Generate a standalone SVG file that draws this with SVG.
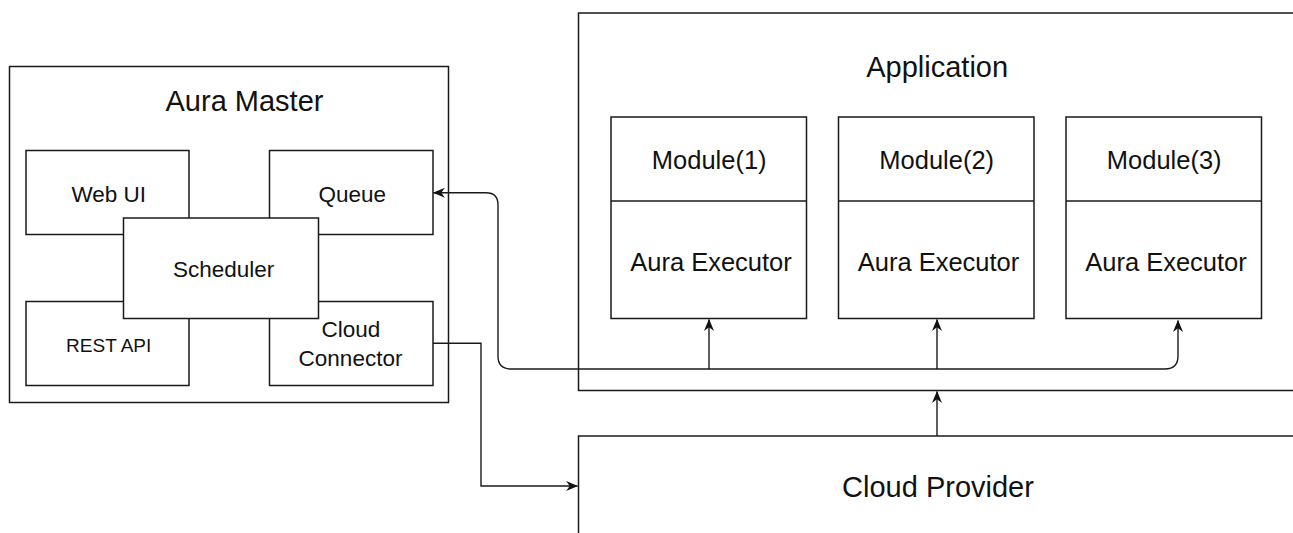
<svg xmlns="http://www.w3.org/2000/svg" width="1293" height="533" viewBox="0 0 1293 533">
  <style>
    .box { fill: #ffffff; stroke: #1a1a1a; stroke-width: 1.5; }
    .line { fill: none; stroke: #1a1a1a; stroke-width: 1.5; }
    .edge { fill: none; stroke: #1a1a1a; stroke-width: 1.4; }
    text { font-family: "Liberation Sans", Arial, Helvetica, sans-serif; fill: #111111; text-anchor: middle; }
    .title { font-size: 29px; }
    .mod { font-size: 25.5px; }
    .inner { font-size: 22.5px; }
    .small { font-size: 19px; }
  </style>
  <defs>
    <marker id="arrow" viewBox="0 0 10 10" refX="9.5" refY="5" markerWidth="12" markerHeight="12" markerUnits="userSpaceOnUse" orient="auto-start-reverse">
      <path d="M0,0.8 L10,5 L0,9.2 L3,5 Z" fill="#111111"/>
    </marker>
  </defs>

  <rect width="1293" height="533" fill="#ffffff"/>

  <!-- Aura Master container and its parts -->
  <g id="aura-master">
    <rect class="box" x="9.5" y="66.5" width="439" height="336"/>
    <text class="title" x="244.5" y="110.5">Aura Master</text>
  </g>
  <g id="web-ui">
    <rect class="box" x="26" y="150.5" width="163" height="84"/>
    <text class="inner" x="108.8" y="201.5">Web UI</text>
  </g>
  <g id="queue">
    <rect class="box" x="269.5" y="150.5" width="163.5" height="84"/>
    <text class="inner" x="352.3" y="201.5">Queue</text>
  </g>
  <g id="rest-api">
    <rect class="box" x="26" y="301.5" width="163" height="84"/>
    <text class="small" x="108.7" y="351.5">REST API</text>
  </g>
  <g id="cloud-connector">
    <rect class="box" x="269.5" y="301.5" width="163.5" height="84"/>
    <text class="inner" x="350.8" y="337">Cloud</text>
    <text class="inner" x="350.5" y="366">Connector</text>
  </g>
  <g id="scheduler">
    <rect class="box" x="123.5" y="218" width="195" height="100.5"/>
    <text class="inner" x="223.7" y="277">Scheduler</text>
  </g>

  <!-- Application container with three modules -->
  <g id="application">
    <rect class="box" x="578.5" y="13" width="730" height="377.5"/>
    <text class="title" x="937.2" y="77">Application</text>
  </g>
  <g id="module-1">
    <rect class="box" x="611" y="117" width="195.5" height="201.5"/>
    <line class="line" x1="611" y1="201" x2="806.5" y2="201"/>
    <text class="mod" x="709.2" y="169">Module(1)</text>
    <text class="mod" x="711" y="270.5">Aura Executor</text>
  </g>
  <g id="module-2">
    <rect class="box" x="838.5" y="117" width="195.5" height="201.5"/>
    <line class="line" x1="838.5" y1="201" x2="1034" y2="201"/>
    <text class="mod" x="936.7" y="169">Module(2)</text>
    <text class="mod" x="938.5" y="270.5">Aura Executor</text>
  </g>
  <g id="module-3">
    <rect class="box" x="1066" y="117" width="195.5" height="201.5"/>
    <line class="line" x1="1066" y1="201" x2="1261.5" y2="201"/>
    <text class="mod" x="1164.2" y="169">Module(3)</text>
    <text class="mod" x="1166" y="270.5">Aura Executor</text>
  </g>

  <!-- Cloud Provider base -->
  <g id="cloud-provider">
    <rect class="box" x="578.5" y="436" width="730" height="110"/>
    <text class="title" x="938" y="496.5">Cloud Provider</text>
  </g>

  <!-- Connectors -->
  <g id="connectors">
    <path class="edge" marker-start="url(#arrow)" marker-end="url(#arrow)"
          d="M433.5,192.7 L486,192.7 Q498,192.7 498,204.7 L498,356.3 Q498,369 511,369 L1165,369 Q1178,369 1178,356 L1178,320.5"/>
    <path class="edge" marker-end="url(#arrow)" d="M709,369 L709,319.5"/>
    <path class="edge" marker-end="url(#arrow)" d="M937,369 L937,319.5"/>
    <path class="edge" marker-end="url(#arrow)" d="M433,343.3 L481,343.3 L481,486 L577.5,486"/>
    <path class="edge" marker-end="url(#arrow)" d="M937,436 L937,391.5"/>
  </g>
</svg>
